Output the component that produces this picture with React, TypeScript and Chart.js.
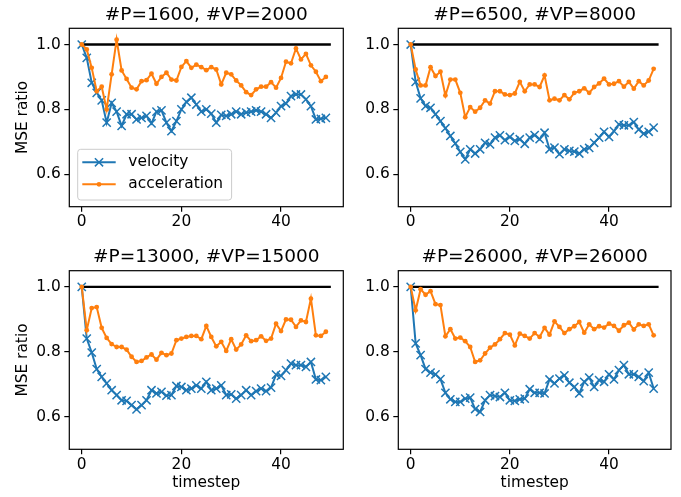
import React, { useEffect, useRef } from 'react';
import { Chart, registerables } from 'chart.js';

Chart.register(...registerables);

// ---------------- data ----------------
const TIMESTEPS = [
  0, 1, 2, 3, 4, 5, 6, 7, 8, 9, 10, 11, 12, 13, 14, 15, 16, 17, 18, 19, 20, 21, 22, 23, 24,
  25, 26, 27, 28, 29, 30, 31, 32, 33, 34, 35, 36, 37, 38, 39, 40, 41, 42, 43, 44, 45, 46, 47, 48, 49,
];

const TITLES = ['#P=1600, #VP=2000', '#P=6500, #VP=8000', '#P=13000, #VP=15000', '#P=26000, #VP=26000'];
const SERIES_LABELS = ['velocity', 'acceleration'];
const X_LABEL = 'timestep';
const Y_LABEL = 'MSE ratio';
const X_TICKS = [0, 20, 40];
const Y_TICKS = [0.6, 0.8, 1.0];
const X_RANGE = [-2.5, 52.5];
const Y_RANGE = [0.5, 1.05];
const REF_X = [0, 50];
const REF_Y = 1.0;

const VEL_1600 = [1.0, 0.959, 0.882, 0.851, 0.828, 0.759, 0.82, 0.793, 0.749, 0.785, 0.785, 0.769, 0.774, 0.78, 0.757, 0.793, 0.797, 0.759, 0.733, 0.764, 0.8, 0.823, 0.836, 0.815, 0.793, 0.8, 0.787, 0.759, 0.783, 0.78, 0.785, 0.793, 0.785, 0.79, 0.793, 0.797, 0.793, 0.785, 0.774, 0.79, 0.81, 0.818, 0.841, 0.846, 0.846, 0.831, 0.81, 0.769, 0.771, 0.774];
const ACC_1600 = [1.0, 0.985, 0.928, 0.856, 0.87, 0.8, 0.908, 1.015, 0.92, 0.894, 0.867, 0.862, 0.887, 0.89, 0.91, 0.879, 0.9, 0.913, 0.892, 0.889, 0.931, 0.949, 0.928, 0.938, 0.93, 0.921, 0.93, 0.923, 0.877, 0.913, 0.908, 0.889, 0.874, 0.853, 0.844, 0.862, 0.87, 0.87, 0.884, 0.867, 0.897, 0.947, 0.942, 0.988, 0.954, 0.971, 0.936, 0.916, 0.887, 0.9];

const VEL_6500 = [1.0, 0.885, 0.834, 0.81, 0.805, 0.785, 0.764, 0.742, 0.718, 0.695, 0.669, 0.646, 0.677, 0.664, 0.677, 0.697, 0.692, 0.713, 0.72, 0.705, 0.715, 0.703, 0.708, 0.694, 0.713, 0.721, 0.708, 0.728, 0.677, 0.682, 0.662, 0.677, 0.672, 0.67, 0.664, 0.677, 0.681, 0.697, 0.713, 0.731, 0.715, 0.733, 0.754, 0.751, 0.751, 0.761, 0.738, 0.725, 0.731, 0.744];
const ACC_6500 = [1.0, 0.923, 0.874, 0.874, 0.93, 0.903, 0.916, 0.843, 0.892, 0.892, 0.851, 0.776, 0.807, 0.793, 0.805, 0.828, 0.818, 0.856, 0.856, 0.846, 0.844, 0.849, 0.885, 0.856, 0.877, 0.877, 0.869, 0.905, 0.828, 0.833, 0.828, 0.844, 0.831, 0.851, 0.856, 0.865, 0.851, 0.869, 0.88, 0.895, 0.877, 0.879, 0.887, 0.87, 0.885, 0.864, 0.887, 0.874, 0.889, 0.925];

const VEL_13000 = [1.0, 0.841, 0.798, 0.747, 0.723, 0.703, 0.682, 0.667, 0.651, 0.649, 0.636, 0.623, 0.636, 0.651, 0.682, 0.672, 0.677, 0.665, 0.667, 0.695, 0.692, 0.682, 0.687, 0.697, 0.687, 0.708, 0.682, 0.687, 0.697, 0.667, 0.669, 0.656, 0.667, 0.682, 0.667, 0.679, 0.687, 0.679, 0.69, 0.73, 0.726, 0.744, 0.764, 0.759, 0.759, 0.754, 0.769, 0.715, 0.713, 0.723];
const ACC_13000 = [1.0, 0.867, 0.935, 0.938, 0.874, 0.843, 0.824, 0.815, 0.815, 0.807, 0.785, 0.769, 0.772, 0.783, 0.792, 0.776, 0.797, 0.79, 0.795, 0.836, 0.841, 0.846, 0.849, 0.849, 0.839, 0.88, 0.846, 0.817, 0.831, 0.803, 0.839, 0.807, 0.823, 0.851, 0.833, 0.836, 0.848, 0.834, 0.841, 0.887, 0.864, 0.9, 0.899, 0.877, 0.897, 0.892, 0.964, 0.851, 0.849, 0.862];

const VEL_26000 = [1.0, 0.826, 0.79, 0.747, 0.736, 0.731, 0.716, 0.674, 0.654, 0.646, 0.646, 0.656, 0.659, 0.624, 0.615, 0.651, 0.667, 0.664, 0.661, 0.674, 0.651, 0.649, 0.654, 0.656, 0.685, 0.674, 0.674, 0.672, 0.715, 0.703, 0.718, 0.728, 0.705, 0.692, 0.672, 0.708, 0.721, 0.692, 0.713, 0.708, 0.731, 0.715, 0.744, 0.759, 0.731, 0.731, 0.723, 0.71, 0.736, 0.687];
const ACC_26000 = [1.0, 0.928, 0.993, 0.976, 0.987, 0.947, 0.944, 0.848, 0.87, 0.841, 0.844, 0.833, 0.815, 0.769, 0.774, 0.795, 0.813, 0.823, 0.839, 0.858, 0.853, 0.82, 0.856, 0.849, 0.841, 0.858, 0.846, 0.874, 0.853, 0.894, 0.877, 0.858, 0.87, 0.879, 0.892, 0.859, 0.885, 0.87, 0.879, 0.875, 0.887, 0.88, 0.865, 0.882, 0.89, 0.869, 0.885, 0.88, 0.885, 0.851];

// ---------------- style ----------------
const FAMILY = '"DejaVu Sans", "Liberation Sans", sans-serif';
const FS = 15.4;
const TITLE_FS = 18.5;
const BLUE = '#1f77b4';
const ORANGE = '#ff7f0e';

type Panel = {
  title: string;
  vel: number[];
  acc: number[];
  left: number;
  top: number;
  w: number;
  h: number;
  yW: number;
  padRight: number;
  xH: number;
  tTop: number;
  tBottom: number;
  showY: boolean;
  showX: boolean;
  legend: boolean;
};

const PANELS: Panel[] = [
  { title: TITLES[0], vel: VEL_1600, acc: ACC_1600, left: 0, top: 0, w: 355, h: 240, yW: 69.3, padRight: 11.7, xH: 33.3, tTop: 4.2, tBottom: 1.9, showY: true, showX: false, legend: true },
  { title: TITLES[1], vel: VEL_6500, acc: ACC_6500, left: 355, top: 0, w: 326, h: 240, yW: 43.3, padRight: 10, xH: 33.3, tTop: 4.2, tBottom: 1.9, showY: false, showX: false, legend: false },
  { title: TITLES[2], vel: VEL_13000, acc: ACC_13000, left: 0, top: 240, w: 355, h: 257, yW: 69.3, padRight: 11.7, xH: 47.7, tTop: 5.8, tBottom: 2.7, showY: true, showX: true, legend: false },
  { title: TITLES[3], vel: VEL_26000, acc: ACC_26000, left: 355, top: 240, w: 326, h: 257, yW: 43.3, padRight: 10, xH: 47.7, tTop: 5.8, tBottom: 2.7, showY: false, showX: true, legend: false },
];

const framePlugin = {
  id: 'frame',
  afterDatasetsDraw(chart: any) {
    const { ctx, chartArea: a } = chart;
    ctx.save();
    ctx.strokeStyle = '#000';
    ctx.lineWidth = 1.2;
    ctx.strokeRect(a.left, a.top, a.right - a.left, a.bottom - a.top);
    ctx.restore();
  },
};

const innerLegendPlugin = {
  id: 'innerLegend',
  afterDraw(chart: any, _args: any, opts: any) {
    if (!opts || !opts.show) return;
    const { ctx, chartArea: a } = chart;
    const items = opts.items as { label: string; color: string; marker: string }[];
    ctx.save();
    ctx.font = `${FS}px ${FAMILY}`;
    const textW = Math.max(...items.map((it) => ctx.measureText(it.label).width));
    const boxL = a.left + 8.4;
    const boxB = a.bottom - 6.7;
    const boxH = 50.7;
    const boxT = boxB - boxH;
    const textX = boxL + 50.6;
    const boxW = 50.6 + textW + 8.5;
    const r = 3;
    ctx.beginPath();
    ctx.moveTo(boxL + r, boxT);
    ctx.lineTo(boxL + boxW - r, boxT);
    ctx.arcTo(boxL + boxW, boxT, boxL + boxW, boxT + r, r);
    ctx.lineTo(boxL + boxW, boxB - r);
    ctx.arcTo(boxL + boxW, boxB, boxL + boxW - r, boxB, r);
    ctx.lineTo(boxL + r, boxB);
    ctx.arcTo(boxL, boxB, boxL, boxB - r, r);
    ctx.lineTo(boxL, boxT + r);
    ctx.arcTo(boxL, boxT, boxL + r, boxT, r);
    ctx.closePath();
    ctx.fillStyle = 'rgba(255,255,255,0.8)';
    ctx.fill();
    ctx.strokeStyle = '#cccccc';
    ctx.lineWidth = 1;
    ctx.stroke();
    items.forEach((it, i) => {
      const y = boxT + 13 + i * 22;
      const hx0 = boxL + 4.6;
      const hx1 = boxL + 38;
      const mx = (hx0 + hx1) / 2;
      ctx.strokeStyle = it.color;
      ctx.lineWidth = 2;
      ctx.beginPath();
      ctx.moveTo(hx0, y);
      ctx.lineTo(hx1, y);
      ctx.stroke();
      if (it.marker === 'x') {
        const d = 4.1;
        ctx.lineWidth = 1.5;
        ctx.beginPath();
        ctx.moveTo(mx - d, y - d);
        ctx.lineTo(mx + d, y + d);
        ctx.moveTo(mx + d, y - d);
        ctx.lineTo(mx - d, y + d);
        ctx.stroke();
      } else {
        ctx.fillStyle = it.color;
        ctx.beginPath();
        ctx.arc(mx, y, 2.4, 0, Math.PI * 2);
        ctx.fill();
      }
      ctx.fillStyle = '#000';
      ctx.textBaseline = 'middle';
      ctx.textAlign = 'left';
      ctx.fillText(it.label, textX, y);
    });
    ctx.restore();
  },
};

function toPoints(vals: number[]) {
  return vals.map((v, i) => ({ x: TIMESTEPS[i], y: v }));
}

function PanelChart({ p }: { p: Panel }) {
  const ref = useRef<HTMLCanvasElement | null>(null);
  useEffect(() => {
    if (!ref.current) return;
    const tickFont = { family: FAMILY, size: FS };
    const chart = new Chart(ref.current, {
      type: 'line',
      data: {
        datasets: [
          {
            label: SERIES_LABELS[1],
            data: toPoints(p.acc),
            borderColor: ORANGE,
            backgroundColor: ORANGE,
            borderWidth: 2,
            pointStyle: 'circle',
            pointRadius: 2.4,
            pointBorderWidth: 0,
            pointBackgroundColor: ORANGE,
            tension: 0,
            order: 1,
          },
          {
            label: SERIES_LABELS[0],
            data: toPoints(p.vel),
            borderColor: BLUE,
            backgroundColor: BLUE,
            borderWidth: 2,
            pointStyle: 'crossRot',
            pointRadius: 5.8,
            pointBorderWidth: 1.5,
            pointBorderColor: BLUE,
            tension: 0,
            order: 2,
          },
          {
            label: 'reference',
            data: REF_X.map((x) => ({ x, y: REF_Y })),
            borderColor: '#000',
            borderWidth: 2.3,
            pointRadius: 0,
            order: 3,
          },
        ],
      } as any,
      options: {
        responsive: false,
        animation: false,
        devicePixelRatio: 1,
        events: [],
        layout: { padding: { left: 0, right: p.padRight, top: 0, bottom: 0 }, autoPadding: false },
        plugins: {
          legend: { display: false },
          tooltip: { enabled: false },
          title: {
            display: true,
            text: p.title,
            fullSize: false,
            color: '#000',
            font: { family: FAMILY, size: TITLE_FS, weight: 'normal' },
            padding: { top: p.tTop, bottom: p.tBottom },
          },
          innerLegend: {
            show: p.legend,
            items: [
              { label: SERIES_LABELS[0], color: BLUE, marker: 'x' },
              { label: SERIES_LABELS[1], color: ORANGE, marker: 'dot' },
            ],
          },
        } as any,
        scales: {
          x: {
            type: 'linear',
            min: X_RANGE[0],
            max: X_RANGE[1],
            afterBuildTicks: (s: any) => {
              s.ticks = X_TICKS.map((v) => ({ value: v }));
            },
            afterFit: (s: any) => {
              s.height = p.xH;
            },
            ticks: {
              font: tickFont,
              color: '#000',
              padding: 1.5,
              maxRotation: 0,
              autoSkip: false,
              callback: (v: any) => String(v),
            },
            grid: { drawOnChartArea: false, drawTicks: true, tickLength: 5, color: '#000', lineWidth: 1.2 },
            border: { display: false },
            title: {
              display: p.showX,
              text: X_LABEL,
              color: '#000',
              font: { family: FAMILY, size: FS },
              padding: { top: 0, bottom: 5.2 },
            },
          },
          y: {
            type: 'linear',
            min: Y_RANGE[0],
            max: Y_RANGE[1],
            afterBuildTicks: (s: any) => {
              s.ticks = Y_TICKS.map((v) => ({ value: v }));
            },
            afterFit: (s: any) => {
              s.width = p.yW;
            },
            ticks: {
              font: tickFont,
              color: '#000',
              padding: 3.5,
              autoSkip: false,
              callback: (v: any) => Number(v).toFixed(1),
            },
            grid: { drawOnChartArea: false, drawTicks: true, tickLength: 5, color: '#000', lineWidth: 1.2 },
            border: { display: false },
            title: {
              display: p.showY,
              text: Y_LABEL,
              color: '#000',
              font: { family: FAMILY, size: FS },
              padding: { top: 13.7, bottom: 0 },
            },
          },
        },
      } as any,
      plugins: [framePlugin, innerLegendPlugin],
    });
    return () => chart.destroy();
  }, [p]);
  return (
    <canvas
      ref={ref}
      width={p.w}
      height={p.h}
      style={{ position: 'absolute', left: p.left, top: p.top, width: p.w, height: p.h }}
    />
  );
}

export default function App() {
  return (
    <div style={{ position: 'absolute', left: 0, top: 0, width: 681, height: 497, background: '#fff' }}>
      {PANELS.map((p, i) => (
        <PanelChart key={i} p={p} />
      ))}
    </div>
  );
}
